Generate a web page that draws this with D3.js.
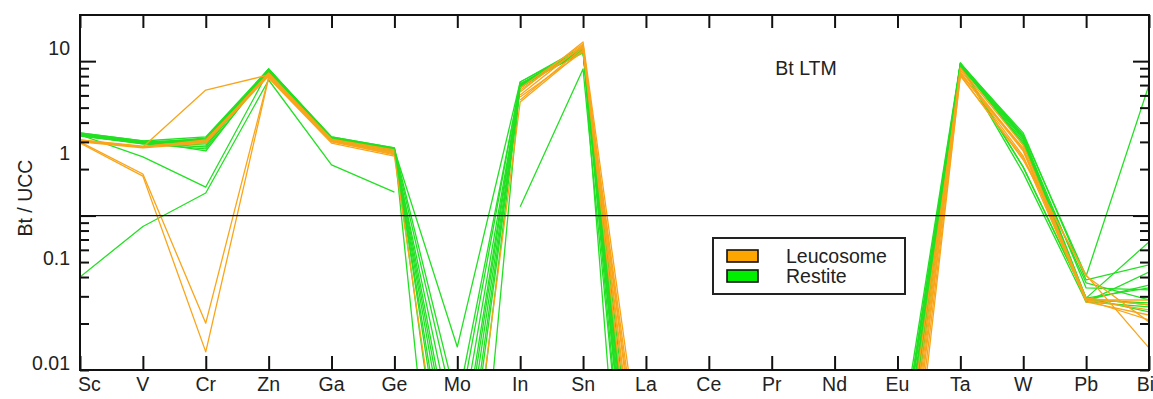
<!DOCTYPE html>
<html>
<head>
<meta charset="utf-8">
<script src="https://cdn.jsdelivr.net/npm/d3@7"></script>
<style>
  html, body { margin: 0; padding: 0; background: #fff; }
  svg { display: block; font-family: "Liberation Sans", Arial, sans-serif; }
</style>
</head>
<body>
<svg id="chart" width="1153" height="399"></svg>
<script>
// Element order along the x axis
const elements = ["Sc","V","Cr","Zn","Ga","Ge","Mo","In","Sn","La","Ce","Pr","Nd","Eu","Ta","W","Pb","Bi"];

// Y-axis label texts
const yLabelValues = [10, 1, 0.1, 0.01];
const yLabelTexts = ["10", "1", "0.1", "0.01"];

// Biotite / UCC ratios, one array per sample (null = not determined)
const L1 = [3.04, 2.78, 6.50, 8.14, 3.09, 2.58, null, 6.04, 12.7, 0.006, 0.008, 0.007, 0.006, 0.006, 8.77, 2.66, 0.284, 0.211];
const L2 = [3.00, 1.86, 0.201, 7.90, 3.00, 2.51, null, 5.61, 12.2, 0.003, 0.005, 0.004, 0.004, 0.004, 8.51, 2.43, 0.284, 0.245];
const L3 = [2.95, 1.80, 0.131, 7.78, 2.95, 2.43, 0.004, 5.44, 11.8, 0.012, 0.010, 0.008, 0.007, 0.002, 8.14, 2.29, 0.412, 0.139];
const L4 = [3.09, 2.78, 3.04, 8.26, 3.13, 2.66, null, 6.70, 12.9, 0.008, 0.009, 0.007, 0.008, 0.008, 9.03, 2.86, 0.292, 0.264];
const L5 = [3.00, 2.74, 2.95, 8.02, 3.04, 2.54, null, 6.31, 13.3, 0.015, 0.012, 0.010, 0.009, 0.005, 8.39, 2.62, 0.276, 0.227];
const L6 = [3.09, 2.82, 3.00, 8.39, 3.09, 2.62, null, 6.50, 12.4, 0.005, 0.006, 0.006, 0.007, 0.012, 8.26, 2.74, 0.284, 0.284];
const L7 = [3.04, 2.78, 3.09, 8.14, 3.04, 2.47, null, 5.86, 11.5, 0.010, 0.008, 0.006, 0.005, 0.003, 8.02, 2.36, 0.406, 0.205];

const R1  = [0.400, 0.85, 1.40, 7.55, 2.13, 1.42, null, 1.14, 8.90, 0.0005, 0.003, 0.004, 0.005, 0.020, 9.31, 2.06, 0.292, 0.264];
const R2  = [3.33, 2.40, 1.53, 8.65, 3.18, 2.66, 0.141, 7.33, 12.0, 0.002, 0.004, 0.005, 0.006, 0.026, 9.73, 3.33, 0.406, 7.01];
const R3  = [3.43, 3.04, 3.23, 8.90, 3.23, 2.74, 0.0003, 7.11, 12.0, 0.00007, 0.001, 0.002, 0.004, 0.015, 9.59, 3.43, 0.383, 0.479];
const R4  = [3.38, 3.00, 3.13, 8.77, 3.18, 2.70, 0.003, 7.01, 11.8, 0.0005, 0.002, 0.003, 0.005, 0.010, 9.45, 3.28, 0.292, 0.675];
const R5  = [3.28, 2.95, 3.04, 8.65, 3.13, 2.66, 0.008, 6.90, 11.5, 0.001, 0.003, 0.004, 0.006, 0.020, 9.31, 3.18, 0.276, 0.431];
const R6  = [3.33, 3.00, 2.86, 8.77, 3.09, 2.62, 0.012, 6.70, 12.2, 0.002, 0.003, 0.005, 0.006, 0.007, 9.59, 3.13, 0.284, 0.355];
const R7  = [3.38, 2.95, 2.78, 8.90, 3.18, 2.70, 0.020, 7.11, 11.3, 0.003, 0.004, 0.005, 0.007, 0.012, 9.45, 3.04, 0.292, 0.340];
const R8  = [3.28, 2.91, 2.70, 8.51, 3.04, 2.58, 0.030, 6.90, 11.8, 0.0008, 0.002, 0.004, 0.006, 0.018, 9.31, 2.95, 0.284, 0.272];
const R9  = [3.43, 3.04, 2.62, 8.77, 3.13, 2.66, 0.045, 7.33, 12.4, 0.004, 0.005, 0.006, 0.007, 0.009, 9.73, 2.86, 0.366, 0.284];
const R10 = [3.33, 2.91, 3.18, 8.65, 3.23, 2.74, 0.060, 7.11, 12.0, 0.0015, 0.003, 0.004, 0.006, 0.022, 9.59, 2.06, 0.292, 0.238];
const R11 = [3.38, 3.00, 2.95, 8.90, 3.09, 2.62, 0.016, 7.01, 11.5, 0.0025, 0.004, 0.005, 0.006, 0.014, 9.45, 1.89, 0.276, 0.256];
const R12 = [3.28, 2.95, 3.09, 8.77, 3.18, 2.70, 0.006, 6.80, 11.8, 0.0012, 0.003, 0.004, 0.005, 0.011, 9.59, 3.23, 0.340, 0.330];

const leucosome = [L1, L2, L3, L4, L5, L6, L7];
const restite = [R1, R2, R3, R4, R5, R6, R7, R8, R9, R10, R11, R12];

const groups = [
  { name: "Leucosome", color: "#F9A51A", swatch: "#FFA500", samples: leucosome },
  { name: "Restite",   color: "#22E022", swatch: "#00EE00", samples: restite }
];

// Layout
const plotLeft = 80, plotRight = 1149, plotTop = 15, plotBottom = 370;
const fontSize = 19.5;
const svg = d3.select("#chart");
svg.append("rect").attr("width", 1153).attr("height", 399).attr("fill", "#fff");

const x = d3.scalePoint().domain(elements).range([plotLeft, plotRight]);
const y = d3.scaleLog().domain([0.1, 19.9]).range([plotBottom, plotTop]);
// positions of the printed y-axis numbers
const yLabelPos = d3.scaleLog().domain([0.01, 10]).range([363, 48]);

svg.append("defs").append("clipPath").attr("id", "plotClip")
  .append("rect").attr("x", plotLeft).attr("y", plotTop)
  .attr("width", plotRight - plotLeft).attr("height", plotBottom - plotTop);

// Sample lines (restite first, leucosome on top)
const line = d3.line()
  .defined(d => d.v != null)
  .x(d => x(d.el))
  .y(d => y(d.v));

const plot = svg.append("g").attr("clip-path", "url(#plotClip)");
[groups[1], groups[0]].forEach(g => {
  plot.append("g").selectAll("path")
    .data(g.samples)
    .join("path")
    .attr("d", s => line(s.map((v, i) => ({ el: elements[i], v }))))
    .attr("fill", "none")
    .attr("stroke", g.color)
    .attr("stroke-width", 1.3)
    .attr("stroke-linejoin", "round");
});

// Reference line at Bt/UCC = 1
svg.append("line")
  .attr("x1", plotLeft).attr("x2", plotRight)
  .attr("y1", y(1)).attr("y2", y(1))
  .attr("stroke", "#111").attr("stroke-width", 1.2);

// Axis ticks (all pointing inward)
const minorTicks = y.ticks().filter(v => v !== 1 && v !== 10);
const majorTicks = [1, 10];
function styleAxis(g) {
  g.select(".domain").remove();
  g.selectAll(".tick line").attr("stroke", "#111").attr("stroke-width", 2);
}
svg.append("g").attr("transform", `translate(${plotLeft},0)`)
  .call(d3.axisRight(y).tickValues(minorTicks).tickSize(9).tickFormat("")).call(styleAxis);
svg.append("g").attr("transform", `translate(${plotLeft},0)`)
  .call(d3.axisRight(y).tickValues(majorTicks).tickSize(16).tickFormat("")).call(styleAxis);
svg.append("g").attr("transform", `translate(${plotRight},0)`)
  .call(d3.axisLeft(y).tickValues(minorTicks).tickSize(9).tickFormat("")).call(styleAxis);
svg.append("g").attr("transform", `translate(${plotRight},0)`)
  .call(d3.axisLeft(y).tickValues(majorTicks).tickSize(16).tickFormat("")).call(styleAxis);
svg.append("g").attr("transform", `translate(0,${plotTop})`)
  .call(d3.axisBottom(x).tickSize(13).tickFormat("")).call(styleAxis);
svg.append("g").attr("transform", `translate(0,${plotBottom})`)
  .call(d3.axisTop(x).tickSize(14).tickFormat("")).call(styleAxis);

// Frame
svg.append("rect")
  .attr("x", plotLeft).attr("y", plotTop)
  .attr("width", plotRight - plotLeft).attr("height", plotBottom - plotTop)
  .attr("fill", "none").attr("stroke", "#111").attr("stroke-width", 2);

// Category labels
svg.append("g").selectAll("text")
  .data(elements)
  .join("text")
  .attr("x", d => d === "Sc" ? plotLeft - 2 : d === "Bi" ? 1154 : x(d))
  .attr("y", 384)
  .attr("text-anchor", d => d === "Sc" ? "start" : d === "Bi" ? "end" : "middle")
  .attr("dominant-baseline", "central")
  .attr("font-size", fontSize)
  .attr("fill", "#222")
  .text(d => d);

// Y-axis numbers
svg.append("g").selectAll("text")
  .data(yLabelValues)
  .join("text")
  .attr("x", 70)
  .attr("y", d => yLabelPos(d))
  .attr("text-anchor", "end")
  .attr("dominant-baseline", "central")
  .attr("font-size", fontSize)
  .attr("fill", "#222")
  .text((d, i) => yLabelTexts[i]);

// Y-axis title
svg.append("text")
  .attr("transform", "translate(25,198) rotate(-90)")
  .attr("text-anchor", "middle")
  .attr("dominant-baseline", "central")
  .attr("font-size", fontSize)
  .attr("fill", "#222")
  .text("Bt / UCC");

// Panel title
svg.append("text")
  .attr("x", 806).attr("y", 68)
  .attr("text-anchor", "middle")
  .attr("dominant-baseline", "central")
  .attr("font-size", fontSize)
  .attr("fill", "#222")
  .text("Bt LTM");

// Legend
const legend = svg.append("g");
legend.append("rect")
  .attr("x", 713).attr("y", 238).attr("width", 192).attr("height", 56)
  .attr("fill", "#fff").attr("stroke", "#222").attr("stroke-width", 2);
groups.forEach((g, i) => {
  legend.append("rect")
    .attr("x", 727).attr("y", 250 + i * 20).attr("width", 31).attr("height", 12)
    .attr("fill", g.swatch).attr("stroke", "#111").attr("stroke-width", 1.6);
  legend.append("text")
    .attr("x", 786).attr("y", 256 + i * 20)
    .attr("dominant-baseline", "central")
    .attr("font-size", fontSize)
    .attr("fill", "#222")
    .text(g.name);
});
</script>
</body>
</html>
